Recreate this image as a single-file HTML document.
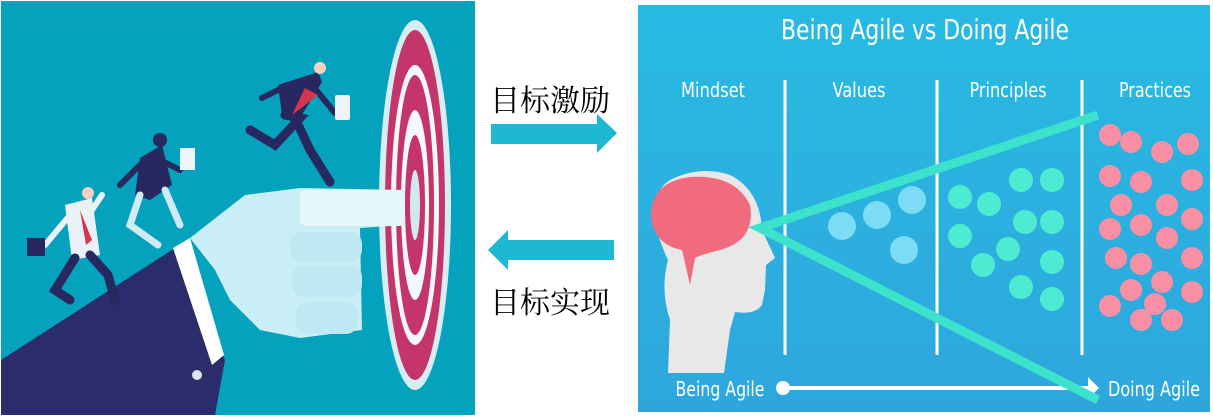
<!DOCTYPE html>
<html><head><meta charset="utf-8"><style>
html,body{margin:0;padding:0;background:#fff;width:1213px;height:417px;overflow:hidden}
svg{display:block}
</style></head><body>
<svg width="1213" height="417" viewBox="0 0 1213 417" xmlns="http://www.w3.org/2000/svg">
<!-- Left panel -->
<rect x="1" y="1" width="474" height="414" fill="#04a2bd"/>
<!-- target -->
<ellipse cx="415" cy="205" rx="36" ry="185" fill="#d6eef3"/>
<ellipse cx="415" cy="205" rx="30" ry="175" fill="#c4366a"/>
<ellipse cx="415" cy="205" rx="24" ry="140" fill="#f4f8f9"/>
<ellipse cx="415" cy="205" rx="19" ry="130" fill="#c4366a"/>
<ellipse cx="415" cy="205" rx="14" ry="95" fill="#f4f8f9"/>
<ellipse cx="415" cy="205" rx="10" ry="70" fill="#c4366a"/>
<ellipse cx="415" cy="205" rx="5" ry="35" fill="#d0e8ee"/>
<!-- sleeve -->
<polygon points="1,360 175,248 225,360 215,415 1,415" fill="#2a2c6b"/>
<polygon points="173,248 190,238 224,355 212,365" fill="#ffffff"/>
<circle cx="197" cy="375" r="5" fill="#dfe5ee"/>
<!-- hand -->
<path d="M190,238 L245,195 L300,188 L405,190 L405,225 L360,228 L362,330 L300,338 L260,330 L230,300 L215,270 Z" fill="#c9eef6"/>
<rect x="300" y="190" width="105" height="36" rx="6" fill="#e4f7fb"/>
<rect x="290" y="232" width="72" height="30" rx="12" fill="#bfe9f2"/>
<rect x="292" y="265" width="70" height="32" rx="12" fill="#bfe9f2"/>
<rect x="296" y="302" width="62" height="32" rx="12" fill="#bfe9f2"/>
<!-- runner 3 (top) -->
<g fill="#26285f" stroke="#26285f" stroke-linecap="round">
<path d="M278,85 L318,72 L322,82 L300,118 L282,115 Z" stroke="none"/>
<line x1="282" y1="88" x2="262" y2="98" stroke-width="6"/>
<line x1="312" y1="85" x2="335" y2="113" stroke-width="6"/>
<path d="M285,115 L300,118 L275,145 L250,130" fill="none" stroke-width="9"/>
<path d="M295,118 L310,150 L330,182" fill="none" stroke-width="9"/>
</g>
<circle cx="320" cy="68" r="6" fill="#f2d1c2"/>
<path d="M305,88 L318,95 L292,115 Z" fill="#d6364d"/>
<rect x="335" y="95" width="15" height="25" rx="2" fill="#eef4f8"/>
<!-- runner 2 (middle) -->
<g fill="#26285f" stroke="#26285f" stroke-linecap="round">
<path d="M140,158 L162,145 L172,185 L150,200 L135,195 Z" stroke="none"/>
<line x1="145" y1="160" x2="120" y2="185" stroke-width="6"/>
<line x1="160" y1="160" x2="180" y2="170" stroke-width="6"/>
<path d="M140,195 L130,225 L158,245" fill="none" stroke="#cfeaf2" stroke-width="7"/>
<path d="M165,190 L180,225" fill="none" stroke="#cfeaf2" stroke-width="7"/>
</g>
<circle cx="160" cy="140" r="7" fill="#26285f"/>
<rect x="180" y="148" width="15" height="22" fill="#eef4f8"/>
<!-- runner 1 (left) -->
<path d="M65,205 L92,198 L100,255 L72,260 Z" fill="#eaf2f8"/>
<g stroke="#26285f" stroke-linecap="round" fill="none">
<path d="M75,258 L55,290 L70,300" stroke-width="9"/>
<path d="M90,255 L108,275 L115,300" stroke-width="9"/>
<line x1="70" y1="215" x2="45" y2="245" stroke="#eaf2f8" stroke-width="6"/>
<line x1="92" y1="210" x2="102" y2="195" stroke="#eaf2f8" stroke-width="6"/>
</g>
<circle cx="88" cy="193" r="6" fill="#f2d1c2"/>
<path d="M80,210 L86,245 L92,240 Z" fill="#d6364d"/>
<rect x="27" y="238" width="18" height="18" fill="#26285f"/>

<!-- Middle -->
<text x="490" y="111" font-family="'Liberation Serif','Noto Serif CJK SC',serif" font-size="30" fill="#000">目标激励</text>
<text x="490" y="313" font-family="'Liberation Serif','Noto Serif CJK SC',serif" font-size="30" fill="#000">目标实现</text>
<polygon points="491,124 597,124 597,114 617,133 597,153 597,144 491,144" fill="#1eb7d4"/>
<polygon points="614,240 508,240 508,230 488,250 508,270 508,260 614,260" fill="#1eb7d4"/>

<!-- Right panel -->
<defs><linearGradient id="bg" x1="0" y1="0" x2="0" y2="1"><stop offset="0" stop-color="#28bbe2"/><stop offset="1" stop-color="#2ea6dd"/></linearGradient></defs>
<rect x="638" y="5" width="572" height="407" fill="url(#bg)"/>
<g font-family="'DejaVu Sans Condensed','Liberation Sans Narrow','Liberation Sans',sans-serif" fill="#fff">
<text x="925" y="39" font-size="28" text-anchor="middle" textLength="288" lengthAdjust="spacingAndGlyphs">Being Agile vs Doing Agile</text>
<text x="713" y="97" font-size="20" text-anchor="middle" textLength="64" lengthAdjust="spacingAndGlyphs">Mindset</text>
<text x="859" y="97" font-size="20" text-anchor="middle" textLength="53" lengthAdjust="spacingAndGlyphs">Values</text>
<text x="1008" y="97" font-size="20" text-anchor="middle" textLength="77" lengthAdjust="spacingAndGlyphs">Principles</text>
<text x="1155" y="97" font-size="20" text-anchor="middle" textLength="72" lengthAdjust="spacingAndGlyphs">Practices</text>
<text x="720" y="396" font-size="20" text-anchor="middle" textLength="89" lengthAdjust="spacingAndGlyphs">Being Agile</text>
<text x="1154" y="396" font-size="20" text-anchor="middle" textLength="92" lengthAdjust="spacingAndGlyphs">Doing Agile</text>
</g>
<g stroke="#fff" stroke-width="3">
<line x1="785" y1="80" x2="785" y2="355"/>
<line x1="937" y1="80" x2="937" y2="355"/>
<line x1="1082" y1="80" x2="1082" y2="355"/>
<line x1="782" y1="388" x2="1090" y2="388" stroke-width="4"/>
</g>
<circle cx="783" cy="388" r="7" fill="#fff"/>
<polygon points="1088,377 1099,388 1088,399" fill="#fff"/>
<!-- head -->
<path d="M668,260 Q640,200 670,180 Q700,165 730,175 Q760,190 762,230 L775,258 L766,265 L765,290 L762,305 Q755,315 735,312 L730,330 L724,373 L668,373 L670,320 Q660,290 668,260 Z" fill="#e8e8e8"/>
<path d="M651,218 Q650,182 690,177 Q735,174 750,205 Q756,240 720,250 Q700,255 695,258 L690,285 L682,250 Q655,245 651,218 Z" fill="#ef6b7d"/>
<!-- green cone -->
<polyline points="1098,115 760,228 1098,400" fill="none" stroke="#3de2cd" stroke-width="9"/>
<!-- stars -->
<g fill="#7cdcf5">
<circle cx="842" cy="226" r="14"/><circle cx="877" cy="215" r="14"/><circle cx="912" cy="200" r="14"/><circle cx="904" cy="250" r="14"/>
</g>
<!-- hexagons -->
<g fill="#4eebd3">
<circle cx="960" cy="197" r="12"/><circle cx="989" cy="204" r="12"/><circle cx="1021" cy="180" r="12"/><circle cx="1052" cy="180" r="12"/>
<circle cx="960" cy="236" r="12"/><circle cx="1025" cy="222" r="12"/><circle cx="1052" cy="222" r="12"/>
<circle cx="1008" cy="249" r="12"/><circle cx="983" cy="265" r="12"/><circle cx="1052" cy="262" r="12"/>
<circle cx="1021" cy="287" r="12"/><circle cx="1052" cy="299" r="12"/>
</g>
<!-- pink dots -->
<g fill="#f98fa5">
<circle cx="1110" cy="135" r="11"/><circle cx="1131" cy="142" r="11"/><circle cx="1162" cy="152" r="11"/><circle cx="1188" cy="144" r="11"/>
<circle cx="1110" cy="176" r="11"/><circle cx="1141" cy="182" r="11"/><circle cx="1192" cy="180" r="11"/>
<circle cx="1121" cy="205" r="11"/><circle cx="1167" cy="205" r="11"/>
<circle cx="1110" cy="229" r="11"/><circle cx="1141" cy="225" r="11"/><circle cx="1167" cy="238" r="11"/><circle cx="1192" cy="219" r="11"/>
<circle cx="1116" cy="258" r="11"/><circle cx="1141" cy="264" r="11"/><circle cx="1192" cy="258" r="11"/>
<circle cx="1162" cy="282" r="11"/><circle cx="1131" cy="290" r="11"/><circle cx="1192" cy="292" r="11"/>
<circle cx="1110" cy="306" r="11"/><circle cx="1155" cy="304" r="11"/>
<circle cx="1141" cy="320" r="11"/><circle cx="1172" cy="320" r="11"/>
</g>
</svg>
</body></html>
